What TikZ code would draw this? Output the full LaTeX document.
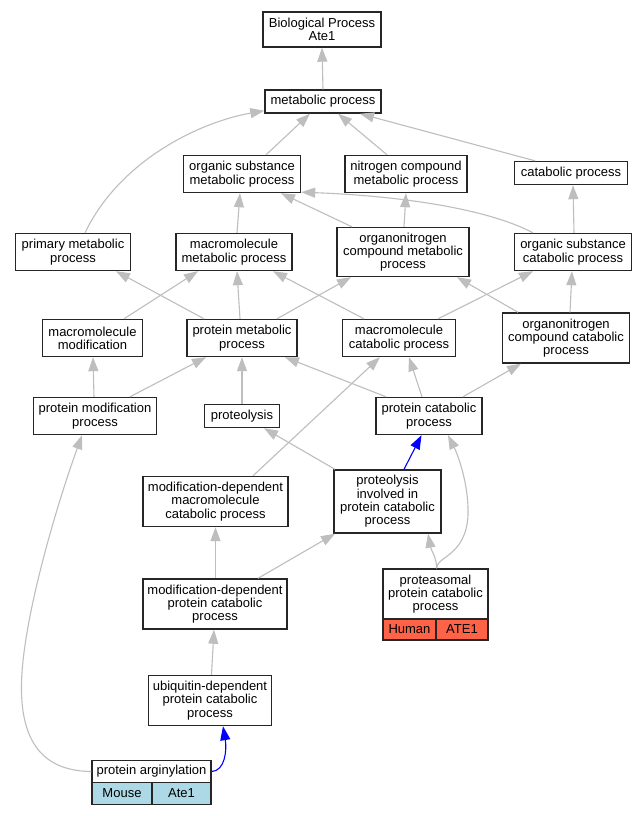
\documentclass[tikz,border=0pt]{standalone}
\usepackage{fontspec}
\setmainfont{Liberation Sans}
\usetikzlibrary{arrows.meta}
\definecolor{edgegrey}{RGB}{190,190,190}
\definecolor{tomatoc}{RGB}{255,99,71}
\definecolor{lblue}{RGB}{173,216,230}
\begin{document}
\begin{tikzpicture}[x=1bp,y=-1bp,
  box/.style={draw=black!85, line width=1.4bp, fill=white, inner sep=0pt, align=center,
    font=\fontsize{13bp}{13.3bp}\selectfont},
  edge/.style={draw=edgegrey, line width=1.1bp, -{Triangle[length=14bp,width=10bp]}},
  blueedge/.style={edge, draw=blue}
]
\useasboundingbox[fill=white] (0,0) rectangle (644,816);

% nodes
\node[box, minimum width=118bp, minimum height=35bp] (bp) at (322,29.5) {Biological Process\\Ate1};
\node[box, minimum width=116bp, minimum height=23bp] (mp) at (323,101.5) {metabolic process};
\node[box, minimum width=117bp, minimum height=37bp] (osm) at (242,174) {organic substance\\metabolic process};
\node[box, minimum width=122bp, minimum height=37bp] (ncm) at (406,174) {nitrogen compound\\metabolic process};
\node[box, minimum width=113bp, minimum height=23bp] (cat) at (571,173) {catabolic process};
\node[box, minimum width=115bp, minimum height=37bp] (pm) at (73,252) {primary metabolic\\process};
\node[box, minimum width=116bp, minimum height=37bp] (mm) at (234,252) {macromolecule\\metabolic process};
\node[box, minimum width=132bp, minimum height=49bp] (onm) at (403,252) {organonitrogen\\compound metabolic\\process};
\node[box, minimum width=117bp, minimum height=37bp] (osc) at (573,252) {organic substance\\catabolic process};
\node[box, minimum width=100bp, minimum height=37bp] (mmod) at (92.5,338) {macromolecule\\modification};
\node[box, minimum width=110bp, minimum height=37bp] (pmp) at (242,338) {protein metabolic\\process};
\node[box, minimum width=113bp, minimum height=37bp] (mc) at (399,338) {macromolecule\\catabolic process};
\node[box, minimum width=127bp, minimum height=50bp] (onc) at (566,338) {organonitrogen\\compound catabolic\\process};
\node[box, minimum width=123bp, minimum height=37bp] (pmod) at (95,416) {protein modification\\process};
\node[box, minimum width=75bp, minimum height=23bp] (ptl) at (242,416) {proteolysis};
\node[box, minimum width=106bp, minimum height=37bp] (pc) at (429,416) {protein catabolic\\process};
\node[box, minimum width=145bp, minimum height=50bp] (mdm) at (215.5,501.5) {modification-dependent\\macromolecule\\catabolic process};
\node[box, minimum width=107bp, minimum height=63bp] (pipc) at (387.5,501.5) {proteolysis\\involved in\\protein catabolic\\process};
\node[box, minimum width=144bp, minimum height=50bp] (mdp) at (215,604) {modification-dependent\\protein catabolic\\process};
\node[box, minimum width=123bp, minimum height=50bp] (ubq) at (210,700.5) {ubiquitin-dependent\\protein catabolic\\process};
\node[box, minimum width=105bp, minimum height=50bp] (prot) at (435.5,594) {proteasomal\\protein catabolic\\process};
\node[box, fill=tomatoc, minimum width=53bp, minimum height=21bp] (protH) at (409.5,629.5) {Human};
\node[box, fill=tomatoc, minimum width=52bp, minimum height=21bp] (protA) at (462,629.5) {ATE1};
\node[box, minimum width=119bp, minimum height=22bp] (arg) at (151.5,771.5) {protein arginylation};
\node[box, fill=lblue, minimum width=60bp, minimum height=22bp] (argM) at (122,793.5) {Mouse};
\node[box, fill=lblue, minimum width=59bp, minimum height=22bp] (argA) at (181.5,793.5) {Ate1};

% edges
\draw[edge] (mp.north) -- (bp.south);
\draw[edge] ([xshift=24bp]osm.north) -- ([xshift=-13bp]mp.south);
\draw[edge] ([xshift=-19bp]ncm.north) -- ([xshift=15bp]mp.south);
\draw[edge] ([xshift=-36bp]cat.north) -- ([xshift=37bp]mp.south);
\draw[edge] ([xshift=12bp]pm.north) .. controls (120,160) and (200,122) .. ([yshift=3bp]mp.south west);
\draw[edge] ([xshift=3bp]mm.north) -- ([xshift=-2bp]osm.south);
\draw[edge] ([xshift=-51bp]onm.north) -- ([xshift=39bp]osm.south);
\draw[edge] ([xshift=-40bp]osc.north) .. controls (480,205) and (380,195) .. ([yshift=1bp]osm.south east);
\draw[edge] ([xshift=1bp]onm.north) -- (ncm.south);
\draw[edge] ([xshift=1bp]osc.north) -- ([xshift=2bp]cat.south);
\draw[edge] ([xshift=31.5bp]mmod.north) -- ([xshift=-36bp]mm.south);
\draw[edge] ([xshift=-38bp]pmp.north) -- ([xshift=43bp]pm.south);
\draw[edge] ([xshift=-2bp]pmp.north) -- ([xshift=3bp]mm.south);
\draw[edge] ([xshift=35bp]pmp.north) -- ([xshift=-52bp]onm.south);
\draw[edge] ([xshift=-35bp]mc.north) -- ([xshift=39bp]mm.south);
\draw[edge] ([xshift=39bp]mc.north) -- ([xshift=-40bp]osc.south);
\draw[edge] ([xshift=-48bp]onc.north) -- ([xshift=54bp]onm.south);
\draw[edge] ([xshift=4bp]onc.north) -- ([xshift=-1bp]osc.south);
\draw[edge] ([xshift=-1bp]pmod.north) -- ([xshift=0.5bp]mmod.south);
\draw[edge] ([xshift=35bp]pmod.north) -- ([xshift=-36bp]pmp.south);
\draw[edge] (ptl.north) -- (pmp.south);
\draw[edge] ([xshift=-43bp]pc.north) -- ([xshift=43bp]pmp.south);
\draw[edge] ([xshift=-7bp]pc.north) -- ([xshift=10bp]mc.south);
\draw[edge] ([xshift=34bp]pc.north) -- ([xshift=-45bp]onc.south);
\draw[edge] ([xshift=37.5bp]mdm.north) -- ([xshift=-19bp]mc.south);
\draw[edge] ([xshift=-52.5bp]pipc.north) -- ([xshift=22bp]ptl.south);
\draw[blueedge] ([xshift=16.5bp]pipc.north) -- ([xshift=-7.5bp]pc.south);
\draw[edge] ([xshift=1bp]prot.north) .. controls (437,556) and (466,556) .. (468,515) .. controls (469,485) and (458,455) .. ([xshift=19bp]pc.south);
\draw[edge] ([xshift=1bp]prot.north) .. controls (437,558) and (431,550) .. ([xshift=40.5bp]pipc.south);
\draw[edge] ([xshift=0.5bp]mdp.north) -- (mdm.south);
\draw[edge] ([xshift=43bp]mdp.north) -- ([xshift=-52.5bp]pipc.south);
\draw[edge] ([xshift=1.5bp]ubq.north) -- ([xshift=-1bp]mdp.south);
\draw[blueedge] (arg.east) .. controls (225,771) and (227,750) .. ([xshift=13bp]ubq.south);
\draw[edge] (arg.west) .. controls (50,771) and (20,750) .. (21.5,683) .. controls (23,620) and (55,510) .. ([xshift=-13bp]pmod.south);
\end{tikzpicture}
\end{document}
